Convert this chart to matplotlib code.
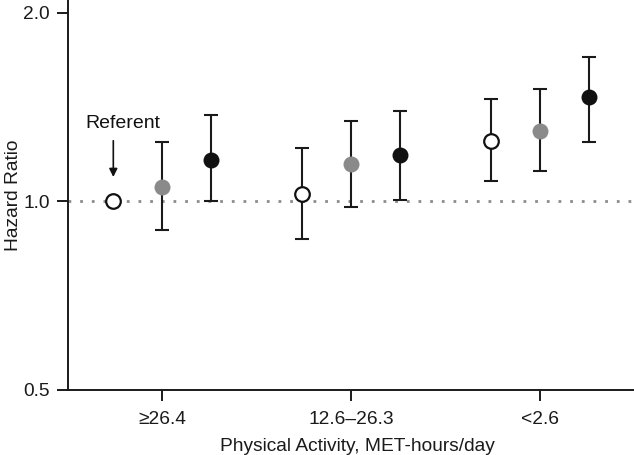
import matplotlib
matplotlib.use("Agg")
import matplotlib.pyplot as plt
from matplotlib.ticker import FixedLocator, NullLocator

plt.rcParams['font.family'] = ['Liberation Sans', 'DejaVu Sans']

categories = ["\u226526.4", "12.6\u201326.3", "<2.6"]
# three series per category: open, gray, black
open_hr = [1.0, 1.027, 1.248]
open_lo = [None, 0.871, 1.077]
open_hi = [None, 1.219, 1.458]
gray_hr = [1.056, 1.148, 1.294]
gray_lo = [0.900, 0.978, 1.117]
gray_hi = [1.246, 1.346, 1.514]
black_hr = [1.166, 1.188, 1.467]
black_lo = [1.000, 1.007, 1.246]
black_hi = [1.376, 1.396, 1.701]
yticks = [0.5, 1.0, 2.0]
ytick_labels = ["0.5", "1.0", "2.0"]

fig = plt.figure(figsize=(6.34, 4.55), dpi=100)
ax = fig.add_axes([0.1073, 0.1429, 0.8927, 0.8571])
ax.set_yscale('log')
ax.set_ylim(0.5, 2.097)
ax.set_xlim(-0.5, 2.5)

ax.axhline(1.0, color='#8c8c8c', linestyle=(0, (1, 3.2)), linewidth=2.0, zorder=1)

off = 0.26
series = [
    (open_hr, open_lo, open_hi, -off, 'white'),
    (gray_hr, gray_lo, gray_hi, 0.0, '#8a8a8a'),
    (black_hr, black_lo, black_hi, off, '#111111'),
]
for hr, lo, hi, dx, fc in series:
    for i in range(len(categories)):
        x = i + dx
        if lo[i] is not None:
            ax.errorbar([x], [hr[i]], yerr=[[hr[i] - lo[i]], [hi[i] - hr[i]]],
                        fmt='none', ecolor='#1a1a1a', elinewidth=1.5,
                        capsize=5.3, capthick=1.5, zorder=2)
        if fc == 'white':
            ax.plot([x], [hr[i]], 'o', markersize=10.5, markerfacecolor='white',
                    markeredgecolor='#111111', markeredgewidth=1.6, zorder=3)
        else:
            ax.plot([x], [hr[i]], 'o', markersize=11.5, markerfacecolor=fc,
                    markeredgecolor=fc, markeredgewidth=0, zorder=3)

ax.annotate("", xy=(-off, 1.094), xytext=(-off, 1.25),
            arrowprops=dict(arrowstyle='-|>', color='#111111', lw=1.2,
                            mutation_scale=12, shrinkA=0, shrinkB=0))
ax.text(-0.207, 1.33, "Referent", ha='center', va='center', fontsize=14, color='#111111')

ax.yaxis.set_major_locator(FixedLocator(yticks))
ax.yaxis.set_minor_locator(NullLocator())
ax.set_yticks(yticks)
ax.set_yticklabels(ytick_labels)
ax.set_xticks(range(len(categories)))
ax.set_xticklabels(categories)

for s in ['top', 'right']:
    ax.spines[s].set_visible(False)
for s in ['left', 'bottom']:
    ax.spines[s].set_linewidth(1.4)
    ax.spines[s].set_color('#1a1a1a')
ax.tick_params(axis='y', direction='out', length=8, width=1.4, color='#1a1a1a',
               labelsize=13.8, pad=5, labelcolor='#1a1a1a')
ax.tick_params(axis='x', direction='out', length=8, width=1.4, color='#1a1a1a',
               labelsize=13.8, pad=7, labelcolor='#1a1a1a')

ax.set_xlabel("Physical Activity, MET-hours/day", fontsize=13.8, color='#1a1a1a')
ax.xaxis.set_label_coords(0.5106, -0.122)
ax.set_ylabel("Hazard Ratio", fontsize=13.8, color='#1a1a1a')
ax.yaxis.set_label_coords(-0.082, 0.5)

fig.savefig("out.png", dpi=100)
